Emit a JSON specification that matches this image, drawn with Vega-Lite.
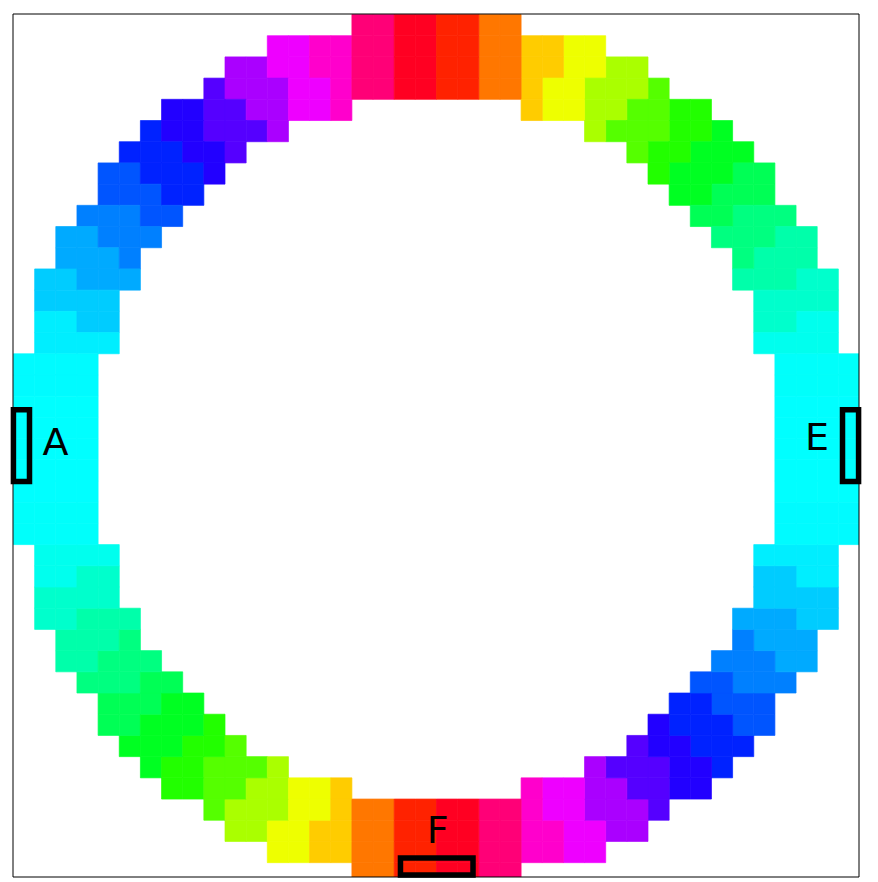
{
  "$schema": "https://vega.github.io/schema/vega-lite/v6.json",
  "width": 846,
  "height": 863,
  "autosize": {"type": "none"},
  "padding": {"left": 13, "top": 14, "right": 19, "bottom": 5},
  "background": "white",
  "config": {"view": {"stroke": null}},
  "datasets": {
    "cells": [
      {"r":0,"c":16,"h":332},{"r":0,"c":17,"h":332},{"r":0,"c":18,"h":352},{"r":0,"c":19,"h":352},
      {"r":1,"c":12,"h":296},{"r":1,"c":13,"h":296},{"r":1,"c":14,"h":312},{"r":1,"c":15,"h":312},{"r":1,"c":16,"h":332},{"r":1,"c":17,"h":332},{"r":1,"c":18,"h":352},{"r":1,"c":19,"h":352},
      {"r":2,"c":10,"h":280},{"r":2,"c":11,"h":280},{"r":2,"c":12,"h":296},{"r":2,"c":13,"h":296},{"r":2,"c":14,"h":312},{"r":2,"c":15,"h":312},{"r":2,"c":16,"h":332},{"r":2,"c":17,"h":332},{"r":2,"c":18,"h":352},{"r":2,"c":19,"h":352},
      {"r":3,"c":9,"h":260},{"r":3,"c":10,"h":280},{"r":3,"c":11,"h":280},{"r":3,"c":12,"h":280},{"r":3,"c":13,"h":296},{"r":3,"c":14,"h":296},{"r":3,"c":15,"h":312},{"r":3,"c":16,"h":332},{"r":3,"c":17,"h":332},{"r":3,"c":18,"h":352},{"r":3,"c":19,"h":352},
      {"r":4,"c":7,"h":248},{"r":4,"c":8,"h":248},{"r":4,"c":9,"h":260},{"r":4,"c":10,"h":260},{"r":4,"c":11,"h":280},{"r":4,"c":12,"h":280},{"r":4,"c":13,"h":296},{"r":4,"c":14,"h":296},{"r":4,"c":15,"h":312},
      {"r":5,"c":6,"h":232},{"r":5,"c":7,"h":248},{"r":5,"c":8,"h":248},{"r":5,"c":9,"h":260},{"r":5,"c":10,"h":260},{"r":5,"c":11,"h":260},{"r":5,"c":12,"h":280},
      {"r":6,"c":5,"h":232},{"r":6,"c":6,"h":232},{"r":6,"c":7,"h":232},{"r":6,"c":8,"h":248},{"r":6,"c":9,"h":248},{"r":6,"c":10,"h":260},
      {"r":7,"c":4,"h":220},{"r":7,"c":5,"h":220},{"r":7,"c":6,"h":232},{"r":7,"c":7,"h":232},{"r":7,"c":8,"h":232},{"r":7,"c":9,"h":248},
      {"r":8,"c":4,"h":220},{"r":8,"c":5,"h":220},{"r":8,"c":6,"h":220},{"r":8,"c":7,"h":232},{"r":8,"c":8,"h":232},
      {"r":9,"c":3,"h":210},{"r":9,"c":4,"h":210},{"r":9,"c":5,"h":210},{"r":9,"c":6,"h":220},{"r":9,"c":7,"h":220},
      {"r":10,"c":2,"h":200},{"r":10,"c":3,"h":200},{"r":10,"c":4,"h":210},{"r":10,"c":5,"h":210},{"r":10,"c":6,"h":210},
      {"r":11,"c":2,"h":200},{"r":11,"c":3,"h":200},{"r":11,"c":4,"h":200},{"r":11,"c":5,"h":210},
      {"r":12,"c":1,"h":192},{"r":12,"c":2,"h":192},{"r":12,"c":3,"h":200},{"r":12,"c":4,"h":200},{"r":12,"c":5,"h":200},
      {"r":13,"c":1,"h":192},{"r":13,"c":2,"h":192},{"r":13,"c":3,"h":192},{"r":13,"c":4,"h":192},
      {"r":14,"c":1,"h":184},{"r":14,"c":2,"h":184},{"r":14,"c":3,"h":192},{"r":14,"c":4,"h":192},
      {"r":15,"c":1,"h":184},{"r":15,"c":2,"h":184},{"r":15,"c":3,"h":184},{"r":15,"c":4,"h":184},
      {"r":16,"c":0,"h":181},{"r":16,"c":1,"h":181},{"r":16,"c":2,"h":181},{"r":16,"c":3,"h":181},
      {"r":17,"c":0,"h":181},{"r":17,"c":1,"h":181},{"r":17,"c":2,"h":181},{"r":17,"c":3,"h":181},
      {"r":18,"c":0,"h":180},{"r":18,"c":1,"h":180},{"r":18,"c":2,"h":180},{"r":18,"c":3,"h":180},
      {"r":19,"c":0,"h":180},{"r":19,"c":1,"h":180},{"r":19,"c":2,"h":180},{"r":19,"c":3,"h":180},
      {"r":20,"c":0,"h":180},{"r":20,"c":1,"h":180},{"r":20,"c":2,"h":180},{"r":20,"c":3,"h":180},

      {"r":0,"c":23,"h":28},{"r":0,"c":22,"h":28},{"r":0,"c":21,"h":8},{"r":0,"c":20,"h":8},
      {"r":1,"c":27,"h":64},{"r":1,"c":26,"h":64},{"r":1,"c":25,"h":48},{"r":1,"c":24,"h":48},{"r":1,"c":23,"h":28},{"r":1,"c":22,"h":28},{"r":1,"c":21,"h":8},{"r":1,"c":20,"h":8},
      {"r":2,"c":29,"h":80},{"r":2,"c":28,"h":80},{"r":2,"c":27,"h":64},{"r":2,"c":26,"h":64},{"r":2,"c":25,"h":48},{"r":2,"c":24,"h":48},{"r":2,"c":23,"h":28},{"r":2,"c":22,"h":28},{"r":2,"c":21,"h":8},{"r":2,"c":20,"h":8},
      {"r":3,"c":30,"h":100},{"r":3,"c":29,"h":80},{"r":3,"c":28,"h":80},{"r":3,"c":27,"h":80},{"r":3,"c":26,"h":64},{"r":3,"c":25,"h":64},{"r":3,"c":24,"h":48},{"r":3,"c":23,"h":28},{"r":3,"c":22,"h":28},{"r":3,"c":21,"h":8},{"r":3,"c":20,"h":8},
      {"r":4,"c":32,"h":112},{"r":4,"c":31,"h":112},{"r":4,"c":30,"h":100},{"r":4,"c":29,"h":100},{"r":4,"c":28,"h":80},{"r":4,"c":27,"h":80},{"r":4,"c":26,"h":64},{"r":4,"c":25,"h":64},{"r":4,"c":24,"h":48},
      {"r":5,"c":33,"h":128},{"r":5,"c":32,"h":112},{"r":5,"c":31,"h":112},{"r":5,"c":30,"h":100},{"r":5,"c":29,"h":100},{"r":5,"c":28,"h":100},{"r":5,"c":27,"h":80},
      {"r":6,"c":34,"h":128},{"r":6,"c":33,"h":128},{"r":6,"c":32,"h":128},{"r":6,"c":31,"h":112},{"r":6,"c":30,"h":112},{"r":6,"c":29,"h":100},
      {"r":7,"c":35,"h":140},{"r":7,"c":34,"h":140},{"r":7,"c":33,"h":128},{"r":7,"c":32,"h":128},{"r":7,"c":31,"h":128},{"r":7,"c":30,"h":112},
      {"r":8,"c":35,"h":140},{"r":8,"c":34,"h":140},{"r":8,"c":33,"h":140},{"r":8,"c":32,"h":128},{"r":8,"c":31,"h":128},
      {"r":9,"c":36,"h":150},{"r":9,"c":35,"h":150},{"r":9,"c":34,"h":150},{"r":9,"c":33,"h":140},{"r":9,"c":32,"h":140},
      {"r":10,"c":37,"h":160},{"r":10,"c":36,"h":160},{"r":10,"c":35,"h":150},{"r":10,"c":34,"h":150},{"r":10,"c":33,"h":150},
      {"r":11,"c":37,"h":160},{"r":11,"c":36,"h":160},{"r":11,"c":35,"h":160},{"r":11,"c":34,"h":150},
      {"r":12,"c":38,"h":168},{"r":12,"c":37,"h":168},{"r":12,"c":36,"h":160},{"r":12,"c":35,"h":160},{"r":12,"c":34,"h":160},
      {"r":13,"c":38,"h":168},{"r":13,"c":37,"h":168},{"r":13,"c":36,"h":168},{"r":13,"c":35,"h":168},
      {"r":14,"c":38,"h":176},{"r":14,"c":37,"h":176},{"r":14,"c":36,"h":168},{"r":14,"c":35,"h":168},
      {"r":15,"c":38,"h":176},{"r":15,"c":37,"h":176},{"r":15,"c":36,"h":176},{"r":15,"c":35,"h":176},
      {"r":16,"c":39,"h":179},{"r":16,"c":38,"h":179},{"r":16,"c":37,"h":179},{"r":16,"c":36,"h":179},
      {"r":17,"c":39,"h":179},{"r":17,"c":38,"h":179},{"r":17,"c":37,"h":179},{"r":17,"c":36,"h":179},
      {"r":18,"c":39,"h":180},{"r":18,"c":38,"h":180},{"r":18,"c":37,"h":180},{"r":18,"c":36,"h":180},
      {"r":19,"c":39,"h":180},{"r":19,"c":38,"h":180},{"r":19,"c":37,"h":180},{"r":19,"c":36,"h":180},
      {"r":20,"c":39,"h":180},{"r":20,"c":38,"h":180},{"r":20,"c":37,"h":180},{"r":20,"c":36,"h":180},

      {"r":40,"c":16,"h":28},{"r":40,"c":17,"h":28},{"r":40,"c":18,"h":8},{"r":40,"c":19,"h":8},
      {"r":39,"c":12,"h":64},{"r":39,"c":13,"h":64},{"r":39,"c":14,"h":48},{"r":39,"c":15,"h":48},{"r":39,"c":16,"h":28},{"r":39,"c":17,"h":28},{"r":39,"c":18,"h":8},{"r":39,"c":19,"h":8},
      {"r":38,"c":10,"h":80},{"r":38,"c":11,"h":80},{"r":38,"c":12,"h":64},{"r":38,"c":13,"h":64},{"r":38,"c":14,"h":48},{"r":38,"c":15,"h":48},{"r":38,"c":16,"h":28},{"r":38,"c":17,"h":28},{"r":38,"c":18,"h":8},{"r":38,"c":19,"h":8},
      {"r":37,"c":9,"h":100},{"r":37,"c":10,"h":80},{"r":37,"c":11,"h":80},{"r":37,"c":12,"h":80},{"r":37,"c":13,"h":64},{"r":37,"c":14,"h":64},{"r":37,"c":15,"h":48},{"r":37,"c":16,"h":28},{"r":37,"c":17,"h":28},{"r":37,"c":18,"h":8},{"r":37,"c":19,"h":8},
      {"r":36,"c":7,"h":112},{"r":36,"c":8,"h":112},{"r":36,"c":9,"h":100},{"r":36,"c":10,"h":100},{"r":36,"c":11,"h":80},{"r":36,"c":12,"h":80},{"r":36,"c":13,"h":64},{"r":36,"c":14,"h":64},{"r":36,"c":15,"h":48},
      {"r":35,"c":6,"h":128},{"r":35,"c":7,"h":112},{"r":35,"c":8,"h":112},{"r":35,"c":9,"h":100},{"r":35,"c":10,"h":100},{"r":35,"c":11,"h":100},{"r":35,"c":12,"h":80},
      {"r":34,"c":5,"h":128},{"r":34,"c":6,"h":128},{"r":34,"c":7,"h":128},{"r":34,"c":8,"h":112},{"r":34,"c":9,"h":112},{"r":34,"c":10,"h":100},
      {"r":33,"c":4,"h":140},{"r":33,"c":5,"h":140},{"r":33,"c":6,"h":128},{"r":33,"c":7,"h":128},{"r":33,"c":8,"h":128},{"r":33,"c":9,"h":112},
      {"r":32,"c":4,"h":140},{"r":32,"c":5,"h":140},{"r":32,"c":6,"h":140},{"r":32,"c":7,"h":128},{"r":32,"c":8,"h":128},
      {"r":31,"c":3,"h":150},{"r":31,"c":4,"h":150},{"r":31,"c":5,"h":150},{"r":31,"c":6,"h":140},{"r":31,"c":7,"h":140},
      {"r":30,"c":2,"h":160},{"r":30,"c":3,"h":160},{"r":30,"c":4,"h":150},{"r":30,"c":5,"h":150},{"r":30,"c":6,"h":150},
      {"r":29,"c":2,"h":160},{"r":29,"c":3,"h":160},{"r":29,"c":4,"h":160},{"r":29,"c":5,"h":150},
      {"r":28,"c":1,"h":168},{"r":28,"c":2,"h":168},{"r":28,"c":3,"h":160},{"r":28,"c":4,"h":160},{"r":28,"c":5,"h":160},
      {"r":27,"c":1,"h":168},{"r":27,"c":2,"h":168},{"r":27,"c":3,"h":168},{"r":27,"c":4,"h":168},
      {"r":26,"c":1,"h":176},{"r":26,"c":2,"h":176},{"r":26,"c":3,"h":168},{"r":26,"c":4,"h":168},
      {"r":25,"c":1,"h":176},{"r":25,"c":2,"h":176},{"r":25,"c":3,"h":176},{"r":25,"c":4,"h":176},
      {"r":24,"c":0,"h":179},{"r":24,"c":1,"h":179},{"r":24,"c":2,"h":179},{"r":24,"c":3,"h":179},
      {"r":23,"c":0,"h":179},{"r":23,"c":1,"h":179},{"r":23,"c":2,"h":179},{"r":23,"c":3,"h":179},
      {"r":22,"c":0,"h":180},{"r":22,"c":1,"h":180},{"r":22,"c":2,"h":180},{"r":22,"c":3,"h":180},
      {"r":21,"c":0,"h":180},{"r":21,"c":1,"h":180},{"r":21,"c":2,"h":180},{"r":21,"c":3,"h":180},

      {"r":40,"c":23,"h":332},{"r":40,"c":22,"h":332},{"r":40,"c":21,"h":352},{"r":40,"c":20,"h":352},
      {"r":39,"c":27,"h":296},{"r":39,"c":26,"h":296},{"r":39,"c":25,"h":312},{"r":39,"c":24,"h":312},{"r":39,"c":23,"h":332},{"r":39,"c":22,"h":332},{"r":39,"c":21,"h":352},{"r":39,"c":20,"h":352},
      {"r":38,"c":29,"h":280},{"r":38,"c":28,"h":280},{"r":38,"c":27,"h":296},{"r":38,"c":26,"h":296},{"r":38,"c":25,"h":312},{"r":38,"c":24,"h":312},{"r":38,"c":23,"h":332},{"r":38,"c":22,"h":332},{"r":38,"c":21,"h":352},{"r":38,"c":20,"h":352},
      {"r":37,"c":30,"h":260},{"r":37,"c":29,"h":280},{"r":37,"c":28,"h":280},{"r":37,"c":27,"h":280},{"r":37,"c":26,"h":296},{"r":37,"c":25,"h":296},{"r":37,"c":24,"h":312},{"r":37,"c":23,"h":332},{"r":37,"c":22,"h":332},{"r":37,"c":21,"h":352},{"r":37,"c":20,"h":352},
      {"r":36,"c":32,"h":248},{"r":36,"c":31,"h":248},{"r":36,"c":30,"h":260},{"r":36,"c":29,"h":260},{"r":36,"c":28,"h":280},{"r":36,"c":27,"h":280},{"r":36,"c":26,"h":296},{"r":36,"c":25,"h":296},{"r":36,"c":24,"h":312},
      {"r":35,"c":33,"h":232},{"r":35,"c":32,"h":248},{"r":35,"c":31,"h":248},{"r":35,"c":30,"h":260},{"r":35,"c":29,"h":260},{"r":35,"c":28,"h":260},{"r":35,"c":27,"h":280},
      {"r":34,"c":34,"h":232},{"r":34,"c":33,"h":232},{"r":34,"c":32,"h":232},{"r":34,"c":31,"h":248},{"r":34,"c":30,"h":248},{"r":34,"c":29,"h":260},
      {"r":33,"c":35,"h":220},{"r":33,"c":34,"h":220},{"r":33,"c":33,"h":232},{"r":33,"c":32,"h":232},{"r":33,"c":31,"h":232},{"r":33,"c":30,"h":248},
      {"r":32,"c":35,"h":220},{"r":32,"c":34,"h":220},{"r":32,"c":33,"h":220},{"r":32,"c":32,"h":232},{"r":32,"c":31,"h":232},
      {"r":31,"c":36,"h":210},{"r":31,"c":35,"h":210},{"r":31,"c":34,"h":210},{"r":31,"c":33,"h":220},{"r":31,"c":32,"h":220},
      {"r":30,"c":37,"h":200},{"r":30,"c":36,"h":200},{"r":30,"c":35,"h":210},{"r":30,"c":34,"h":210},{"r":30,"c":33,"h":210},
      {"r":29,"c":37,"h":200},{"r":29,"c":36,"h":200},{"r":29,"c":35,"h":200},{"r":29,"c":34,"h":210},
      {"r":28,"c":38,"h":192},{"r":28,"c":37,"h":192},{"r":28,"c":36,"h":200},{"r":28,"c":35,"h":200},{"r":28,"c":34,"h":200},
      {"r":27,"c":38,"h":192},{"r":27,"c":37,"h":192},{"r":27,"c":36,"h":192},{"r":27,"c":35,"h":192},
      {"r":26,"c":38,"h":184},{"r":26,"c":37,"h":184},{"r":26,"c":36,"h":192},{"r":26,"c":35,"h":192},
      {"r":25,"c":38,"h":184},{"r":25,"c":37,"h":184},{"r":25,"c":36,"h":184},{"r":25,"c":35,"h":184},
      {"r":24,"c":39,"h":181},{"r":24,"c":38,"h":181},{"r":24,"c":37,"h":181},{"r":24,"c":36,"h":181},
      {"r":23,"c":39,"h":181},{"r":23,"c":38,"h":181},{"r":23,"c":37,"h":181},{"r":23,"c":36,"h":181},
      {"r":22,"c":39,"h":180},{"r":22,"c":38,"h":180},{"r":22,"c":37,"h":180},{"r":22,"c":36,"h":180},
      {"r":21,"c":39,"h":180},{"r":21,"c":38,"h":180},{"r":21,"c":37,"h":180},{"r":21,"c":36,"h":180}
    ],
    "boxes": [
      {"name": "A", "x0": 0.02, "x1": 0.78, "y0": 18.66, "y1": 22.05},
      {"name": "E", "x0": 39.22, "x1": 39.98, "y0": 18.66, "y1": 22.05},
      {"name": "F", "x0": 18.32, "x1": 21.75, "y0": 39.8, "y1": 40.6}
    ],
    "labels": [
      {"label": "A", "x": 2.01, "y": 20.8},
      {"label": "E", "x": 38.02, "y": 20.57},
      {"label": "F", "x": 20.08, "y": 39.12}
    ]
  },
  "layer": [
    {
      "data": {"name": "cells"},
      "mark": {"type": "rect", "clip": true, "binSpacing": 0, "strokeWidth": 0.7},
      "encoding": {
        "x": {"field": "c", "type": "quantitative", "bin": {"binned": true, "step": 1}, "scale": {"domain": [0, 40], "nice": false, "zero": false}, "axis": null},
        "y": {"field": "r", "type": "quantitative", "bin": {"binned": true, "step": 1}, "scale": {"domain": [0, 40.7], "nice": false, "zero": false, "reverse": true}, "axis": null},
        "color": {
          "field": "h", "type": "quantitative", "legend": null,
          "scale": {"domain": [0, 60, 120, 180, 240, 300, 360], "range": ["#ff0000", "#ffff00", "#00ff00", "#00ffff", "#0000ff", "#ff00ff", "#ff0000"], "interpolate": "rgb"}
        },
        "stroke": {
          "field": "h", "type": "quantitative", "legend": null,
          "scale": {"domain": [0, 60, 120, 180, 240, 300, 360], "range": ["#ff0000", "#ffff00", "#00ff00", "#00ffff", "#0000ff", "#ff00ff", "#ff0000"], "interpolate": "rgb"}
        }
      }
    },
    {
      "data": {"name": "boxes"},
      "mark": {"type": "rect", "filled": false, "stroke": "black", "strokeWidth": 5.5},
      "encoding": {
        "x": {"field": "x0", "type": "quantitative", "axis": null},
        "x2": {"field": "x1"},
        "y": {"field": "y0", "type": "quantitative", "axis": null},
        "y2": {"field": "y1"}
      }
    },
    {
      "data": {"name": "labels"},
      "mark": {"type": "text", "font": "DejaVu Sans", "fontSize": 38, "baseline": "alphabetic", "align": "center", "color": "black"},
      "encoding": {
        "x": {"field": "x", "type": "quantitative", "axis": null},
        "y": {"field": "y", "type": "quantitative", "axis": null},
        "text": {"field": "label"}
      }
    },
    {
      "data": {"values": [{"frame": "plot"}]},
      "mark": {"type": "rect", "filled": false, "stroke": "black", "strokeWidth": 1},
      "encoding": {
        "x": {"datum": 0},
        "x2": {"datum": 40},
        "y": {"datum": 0},
        "y2": {"datum": 40.7}
      }
    }
  ]
}
